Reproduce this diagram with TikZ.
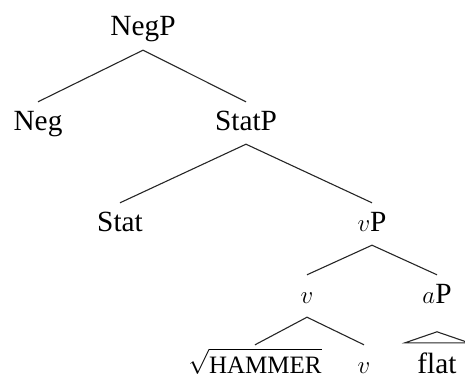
\documentclass[tikz,border=0pt]{standalone}
\usepackage{fontspec}
\setmainfont{Liberation Serif}
\usetikzlibrary{calc}
\tikzset{
  cat/.style={anchor=base, font=\fontsize{29.3}{32}\selectfont,
    text height=20pt, text depth=6pt, inner xsep=0pt, inner ysep=8pt},
  branch/.style={line width=1.1pt, draw=black!85},
}
\begin{document}
\begin{tikzpicture}[x=1pt,y=-1pt]
  \useasboundingbox (0,0) rectangle (465,377);
  \clip (0,0) rectangle (465,377);
  % categories, placed by their baselines
  \node[cat] (negp)  at (143,36)  {NegP};
  \node[cat] (neg)   at (38,130)  {Neg};
  \node[cat] (statp) at (246,130) {StatP};
  \node[cat] (stat)  at (120,231) {Stat};
  \node[cat] (vp)    at (372,231) {$v$P};
  \node[cat] (v)     at (307,303) {$v$};
  \node[cat] (ap)    at (437,303) {$a$P};
  \node[cat] (root)  at (255,373)
    {$\sqrt{\mbox{\rule{0pt}{21pt}\fontsize{25}{25}\selectfont HAMMER}}$};
  \node[cat] (vhead) at (364,373) {$v$};
  \node[cat] (flat)  at (437,373) {flat};
  % branches
  \draw[branch] (negp.south) -- (neg.north);
  \draw[branch] (negp.south) -- (statp.north);
  \draw[branch] (statp.south) -- (stat.north);
  \draw[branch] (statp.south) -- (vp.north);
  \draw[branch] (vp.south) -- (v.north);
  \draw[branch] (vp.south) -- (ap.north);
  \draw[branch] (v.south) -- (root.north);
  \draw[branch] (v.south) -- (vhead.north);
  % roof over the adjective
  \draw[branch] ($(flat.north)+(-32,-2)$) -- ($(flat.north)+(0,-13)$)
    -- ($(flat.north)+(32,-2)$) -- cycle;
\end{tikzpicture}
\end{document}
